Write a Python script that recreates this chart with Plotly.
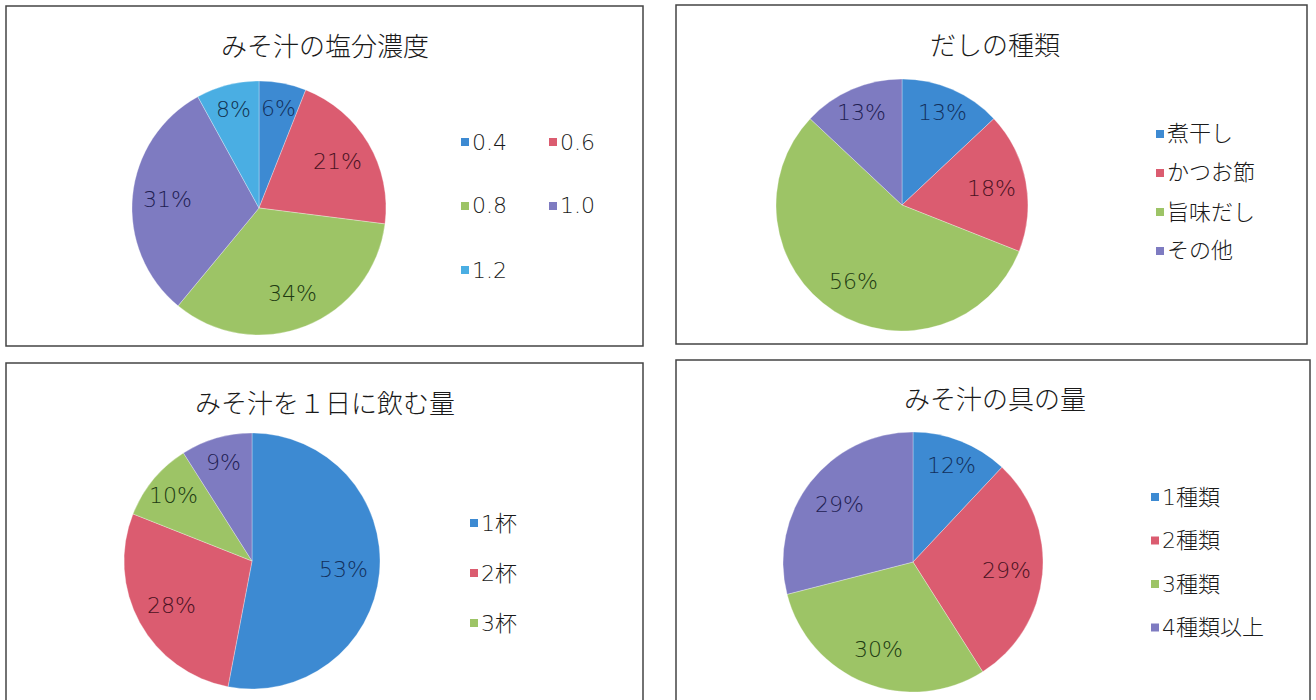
import math
import plotly.graph_objects as go

W, H = 1316, 700

# みそ汁の塩分濃度
salt_labels = ["0.4", "0.6", "0.8", "1.0", "1.2"]
salt_values = [6, 21, 34, 31, 8]

# だしの種類
dashi_labels = ["煮干し", "かつお節", "旨味だし", "その他"]
dashi_values = [13, 18, 56, 13]

# みそ汁を１日に飲む量
cups_labels = ["1杯", "2杯", "3杯", "4杯以上"]
cups_values = [53, 28, 10, 9]
cups_legend_items = 3

# みそ汁の具の量
gu_labels = ["1種類", "2種類", "3種類", "4種類以上"]
gu_values = [12, 29, 30, 29]

slice_colors = ["#3d8ad2", "#db5c70", "#9dc466", "#7e7bc1", "#4aaee3"]
label_colors = ["#12305c", "#4a1222", "#203a12", "#1e2052", "#12324f"]

JP_FONT = "Noto Sans CJK JP, Noto Sans, sans-serif"
NUM_FONT = "DejaVu Sans, Noto Sans CJK JP, sans-serif"

panels = [
    dict(title="みそ汁の塩分濃度", labels=salt_labels, values=salt_values,
         box=(6, 6, 643, 346), title_xy=(325, 45), center=(259, 208), r=127,
         legend_xy=(465, 142), cols=2, col_gap=88, row_gap=64, n_legend=5),
    dict(title="だしの種類", labels=dashi_labels, values=dashi_values,
         box=(676, 5, 1307, 344), title_xy=(995, 44), center=(902, 205), r=126,
         legend_xy=(1160, 134), cols=1, col_gap=0, row_gap=39, n_legend=4),
    dict(title="みそ汁を１日に飲む量", labels=cups_labels, values=cups_values,
         box=(6, 363, 643, 702), title_xy=(325, 401), center=(252, 561), r=128,
         legend_xy=(474, 523), cols=1, col_gap=0, row_gap=50, n_legend=cups_legend_items),
    dict(title="みそ汁の具の量", labels=gu_labels, values=gu_values,
         box=(676, 360, 1310, 702), title_xy=(995, 397), center=(913, 562), r=130,
         legend_xy=(1155, 497), cols=1, col_gap=0, row_gap=43.5, n_legend=4),
]


def px(x):
    return x / W


def py(y):
    return 1 - y / H


fig = go.Figure()
shapes = []
annotations = []

for p in panels:
    n = len(p["labels"])
    cx, cy = p["center"]
    r = p["r"]
    fig.add_trace(go.Pie(
        labels=p["labels"],
        values=p["values"],
        sort=False,
        direction="clockwise",
        rotation=0,
        domain=dict(x=[px(cx - r), px(cx + r)], y=[py(cy + r), py(cy - r)]),
        marker=dict(colors=slice_colors[:n], line=dict(width=0.6, color="rgba(255,255,255,0.5)")),
        textinfo="none",
        showlegend=False,
        hoverinfo="label+value",
    ))

    # percentage labels placed at each slice's mid-angle (clockwise from 12 o'clock)
    total = sum(p["values"])
    cum = 0
    for i, v in enumerate(p["values"]):
        mid = (cum + v / 2) / total * 2 * math.pi
        cum += v
        k = 0.8 if v < 15 else 0.72
        lx = cx + k * r * math.sin(mid)
        ly = cy - k * r * math.cos(mid)
        annotations.append(dict(text=f"{v}%", x=px(lx), y=py(ly), xref="paper", yref="paper",
                                xanchor="center", yanchor="middle", showarrow=False,
                                font=dict(family=NUM_FONT, size=22, weight=200,
                                          color=label_colors[i])))

    # panel frame
    x0, y0, x1, y1 = p["box"]
    shapes.append(dict(type="rect", xref="paper", yref="paper",
                       x0=px(x0), x1=px(x1), y0=py(y1), y1=py(y0),
                       line=dict(color="#444444", width=1.5), fillcolor="rgba(0,0,0,0)"))

    # title
    tx, ty = p["title_xy"]
    annotations.append(dict(text=p["title"], x=px(tx), y=py(ty), xref="paper", yref="paper",
                            xanchor="center", yanchor="middle", showarrow=False,
                            font=dict(family=JP_FONT, size=26, weight=300, color="#1a1a1a")))

    # legend entries
    lx0, ly0 = p["legend_xy"]
    for i in range(p["n_legend"]):
        row, col = divmod(i, p["cols"])
        sx = lx0 + col * p["col_gap"]
        sy = ly0 + row * p["row_gap"]
        shapes.append(dict(type="rect", xref="paper", yref="paper",
                           x0=px(sx - 4), x1=px(sx + 4), y0=py(sy + 4), y1=py(sy - 4),
                           line=dict(width=0), fillcolor=slice_colors[i]))
        annotations.append(dict(text=p["labels"][i], x=px(sx + 5), y=py(sy), xref="paper", yref="paper",
                                xanchor="left", yanchor="middle", showarrow=False,
                                font=dict(family=NUM_FONT, size=22, weight=300, color="#1a1a1a")))

fig.update_layout(
    width=W, height=H,
    margin=dict(l=0, r=0, t=0, b=0),
    paper_bgcolor="white",
    plot_bgcolor="white",
    shapes=shapes,
    annotations=annotations,
)

fig.write_html("out.html")
